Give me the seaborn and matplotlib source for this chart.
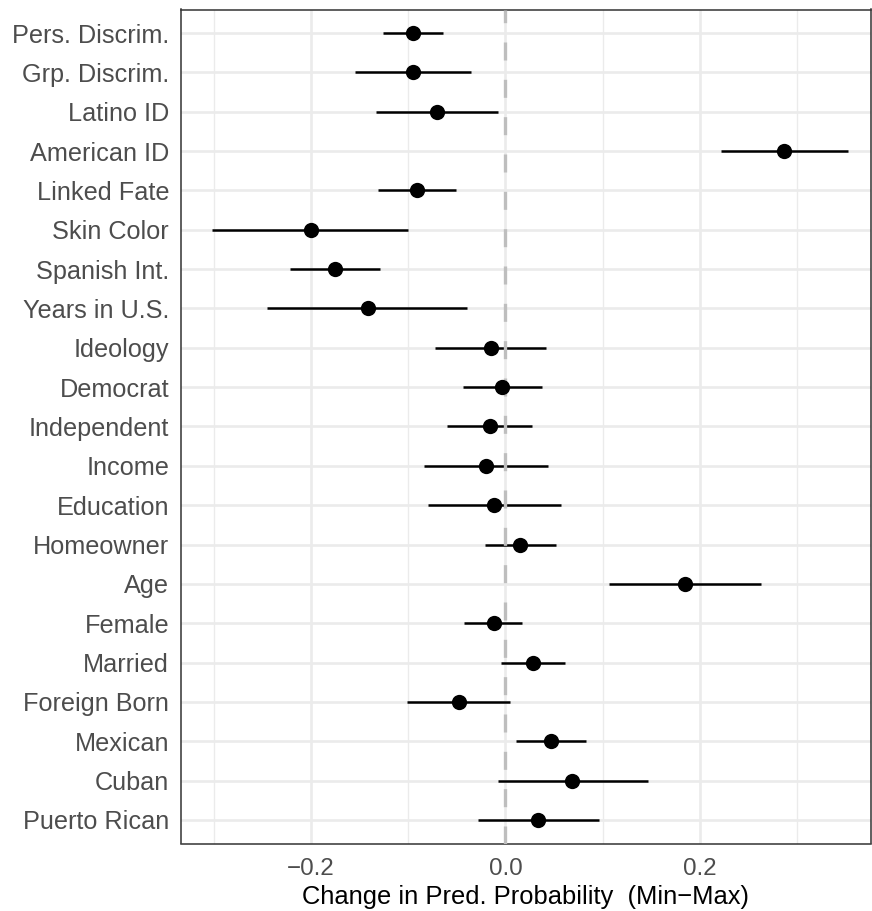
import numpy as np
import pandas as pd
import matplotlib
matplotlib.use("Agg")
import matplotlib.pyplot as plt
from matplotlib.ticker import FixedLocator
import seaborn as sns

# Min-max change in predicted probability, with 95% intervals
variables = [
    "Pers. Discrim.", "Grp. Discrim.", "Latino ID", "American ID", "Linked Fate",
    "Skin Color", "Spanish Int.", "Years in U.S.", "Ideology", "Democrat",
    "Independent", "Income", "Education", "Homeowner", "Age", "Female",
    "Married", "Foreign Born", "Mexican", "Cuban", "Puerto Rican",
]
estimate = [
    -0.095, -0.095, -0.070, 0.287, -0.091, -0.200, -0.175, -0.141, -0.015,
    -0.003, -0.016, -0.020, -0.012, 0.015, 0.185, -0.012, 0.028, -0.048,
    0.047, 0.069, 0.034,
]
lower = [
    -0.126, -0.155, -0.133, 0.222, -0.131, -0.302, -0.221, -0.245, -0.072,
    -0.044, -0.060, -0.084, -0.080, -0.021, 0.107, -0.042, -0.004, -0.101,
    0.011, -0.008, -0.028,
]
upper = [
    -0.064, -0.035, -0.008, 0.352, -0.051, -0.100, -0.129, -0.039, 0.042,
    0.038, 0.027, 0.044, 0.057, 0.052, 0.263, 0.017, 0.061, 0.005,
    0.083, 0.147, 0.096,
]
x_ticks = [-0.2, 0.0, 0.2]
x_title = "Change in Pred. Probability  (Min\u2212Max)"

df = pd.DataFrame({"variable": variables, "estimate": estimate,
                   "lower": lower, "upper": upper})
df["variable"] = pd.Categorical(df["variable"], categories=variables, ordered=True)

sns.set_style("white")
plt.rcParams["font.family"] = ["Liberation Sans", "DejaVu Sans"]

W, H = 872, 911
fig = plt.figure(figsize=(W / 100, H / 100), dpi=100)
ax = fig.add_axes([180.5 / W, 1 - 843.5 / H, (871 - 180.5) / W, (843.5 - 9.5) / H])

# points (categorical y, first category on top)
sns.stripplot(data=df, x="estimate", y="variable", order=variables, jitter=False,
              color="black", size=11, linewidth=0, ax=ax, zorder=5)

# interval segments at the categorical positions
pos = np.arange(len(variables))
ax.hlines(pos, df["lower"], df["upper"], color="black", linewidth=1.8, zorder=3)

# reference line at zero
ax.axvline(0, color="#BEBEBE", linewidth=2.4, linestyle=(0, (5.4, 5.8)), zorder=4)

n = len(variables)
ax.set_ylim(n - 1 + 0.6, -0.6)
ax.set_xlim(-0.334, 0.376)

# grid lines in the theme_bw manner
ax.xaxis.set_major_locator(FixedLocator(x_ticks))
ax.xaxis.set_minor_locator(FixedLocator([-0.3, -0.1, 0.1, 0.3]))
ax.set_axisbelow(True)
ax.grid(True, which="major", axis="both", color="#EBEBEB", linewidth=1.9, zorder=0)
ax.grid(True, which="minor", axis="x", color="#EBEBEB", linewidth=1.0, zorder=0)
ax.yaxis.grid(True, color="#EBEBEB", linewidth=1.9)

ax.set_xticklabels([f"{t:.1f}".replace("-", "\u2212") for t in x_ticks])
ax.tick_params(axis="both", which="major", length=5.2, width=1.1, color="#333333",
               labelcolor="#4D4D4D", pad=3)
ax.tick_params(axis="x", which="major", labelsize=17.4, pad=5)
ax.tick_params(axis="y", which="major", labelsize=18.2)
ax.tick_params(axis="x", which="minor", length=0)

for s in ax.spines.values():
    s.set_color("#333333")
    s.set_linewidth(1.1)

ax.set_ylabel("")
ax.set_xlabel(x_title, fontsize=18.4, color="black", labelpad=4)

fig.savefig("out.png", dpi=100, facecolor="white")
